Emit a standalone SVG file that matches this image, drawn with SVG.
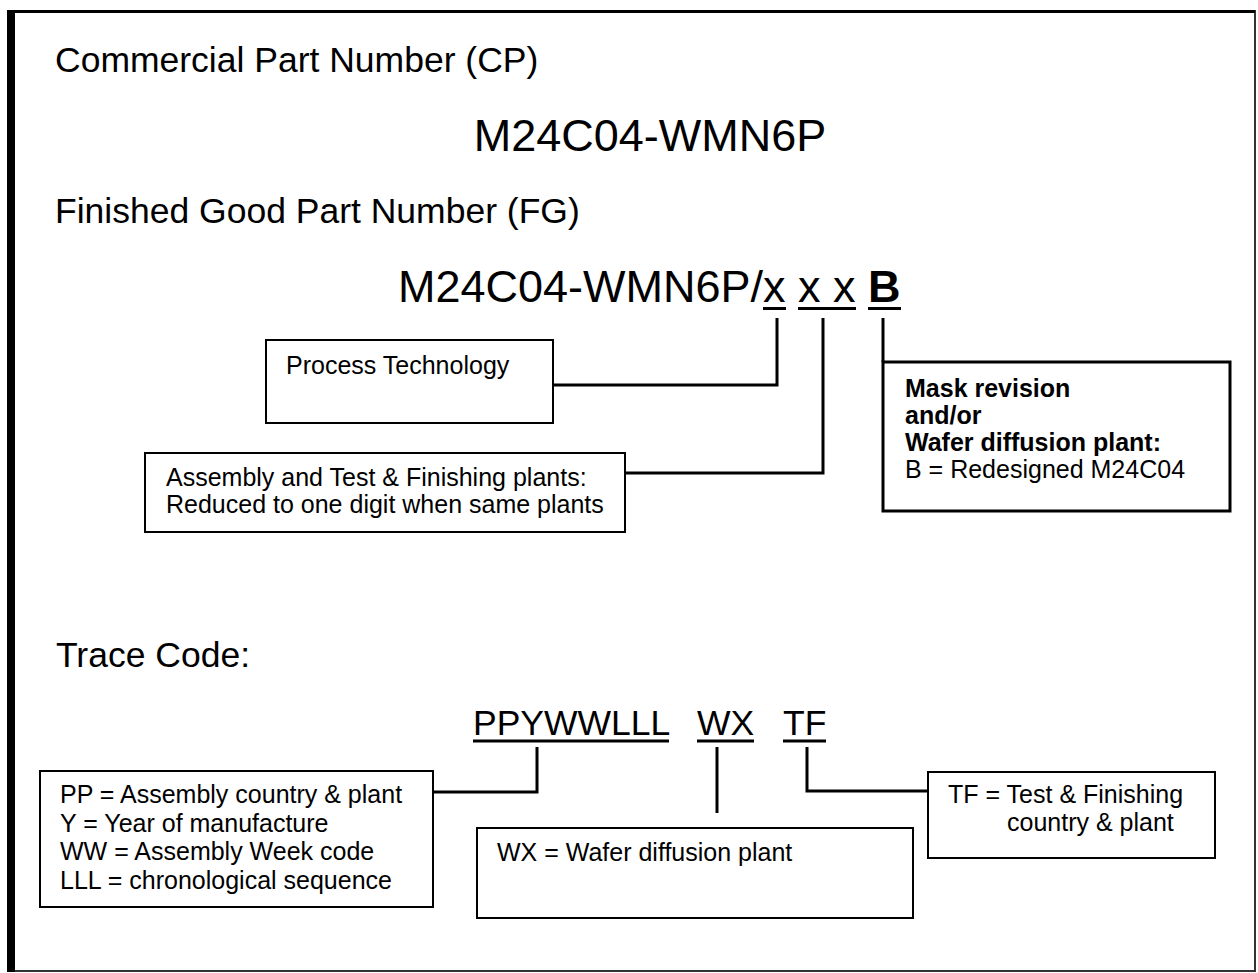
<svg xmlns="http://www.w3.org/2000/svg" width="1258" height="973" viewBox="0 0 1258 973">
<style>
text{font-family:"Liberation Sans",Arial,sans-serif;fill:#000}
.h{font-size:35.5px}
.big{font-size:45px}
.t{font-size:25px}
.b{font-weight:bold}
.box{fill:#fff;stroke:#000;stroke-width:2}
.thick{fill:#fff;stroke:#000;stroke-width:3}
.c{fill:none;stroke:#000;stroke-width:3}
.u{stroke:#000;stroke-width:3}
</style>
<rect x="0" y="0" width="1258" height="973" fill="#fff"/>
<g id="frame">
<rect x="11" y="11" width="1244" height="960" fill="none" stroke="#333" stroke-width="2"/>
<line x1="7" y1="11.5" x2="1255" y2="11.5" stroke="#000" stroke-width="3"/>
<rect x="7" y="10" width="8" height="962" fill="#000"/>
</g>
<g id="titles">
<text class="h" x="55" y="72">Commercial Part Number (CP)</text>
<text class="big" x="650" y="151" text-anchor="middle">M24C04-WMN6P</text>
<text class="h" x="55" y="223">Finished Good Part Number (FG)</text>
<text class="big" x="398" y="302">M24C04-WMN6P/x x x <tspan class="b">B</tspan></text>
<line class="u" x1="763" y1="308.5" x2="786" y2="308.5"/>
<line class="u" x1="798" y1="308.5" x2="856" y2="308.5"/>
<line class="u" x1="868" y1="308.5" x2="901" y2="308.5"/>
<text class="h" x="56" y="667">Trace Code:</text>
<text class="h" x="473" y="735">PPYWWLLL</text>
<text class="h" x="697" y="735">WX</text>
<text class="h" x="783" y="735">TF</text>
<line class="u" x1="473" y1="741" x2="669" y2="741"/>
<line class="u" x1="697" y1="741" x2="754" y2="741"/>
<line class="u" x1="783" y1="741" x2="826" y2="741"/>
</g>
<g id="connectors">
<polyline class="c" points="777,318 777,385 553,385"/>
<polyline class="c" points="823,318 823,473 625,473"/>
<line class="c" x1="883" y1="318" x2="883" y2="362"/>
<polyline class="c" points="537,747 537,792 433,792"/>
<line class="c" x1="717" y1="747" x2="717" y2="813"/>
<polyline class="c" points="807,747 807,791 928,791"/>
</g>
<g id="process-technology">
<rect class="box" x="266" y="340" width="287" height="83"/>
<text class="t" x="286" y="374">Process Technology</text>
</g>
<g id="assembly">
<rect class="box" x="145" y="453" width="480" height="79"/>
<text class="t" x="166" y="486">Assembly and Test &amp; Finishing plants:</text>
<text class="t" x="166" y="513">Reduced to one digit when same plants</text>
</g>
<g id="mask-revision">
<rect class="thick" x="883" y="362" width="347" height="149"/>
<text class="t b" x="905" y="397">Mask revision</text>
<text class="t b" x="905" y="424">and/or</text>
<text class="t b" x="905" y="451">Wafer diffusion plant:</text>
<text class="t" x="905" y="478">B = Redesigned M24C04</text>
</g>
<g id="pp-box">
<rect class="box" x="40" y="771" width="393" height="136"/>
<text class="t" x="60" y="803">PP = Assembly country &amp; plant</text>
<text class="t" x="60" y="831.5">Y = Year of manufacture</text>
<text class="t" x="60" y="860">WW = Assembly Week code</text>
<text class="t" x="60" y="888.5">LLL = chronological sequence</text>
</g>
<g id="wx-box">
<rect class="box" x="477" y="828" width="436" height="90"/>
<text class="t" x="497" y="861">WX = Wafer diffusion plant</text>
</g>
<g id="tf-box">
<rect class="box" x="928" y="772" width="287" height="86"/>
<text class="t" x="948" y="803">TF = Test &amp; Finishing</text>
<text class="t" x="1007" y="831">country &amp; plant</text>
</g>
</svg>
